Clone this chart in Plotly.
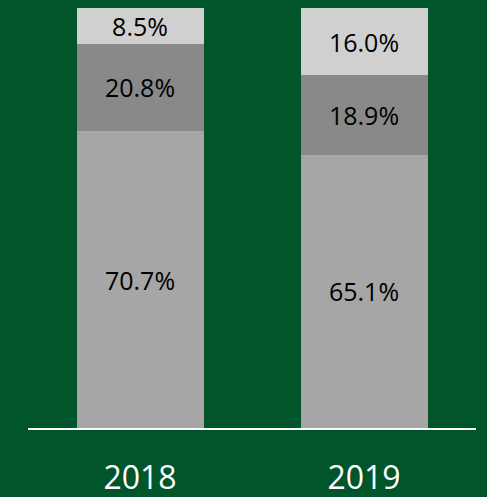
import plotly.graph_objects as go

years = ['2018', '2019']
bottom_share = [70.7, 65.1]
middle_share = [20.8, 18.9]
top_share = [8.5, 16.0]

bg = '#00552B'

fig = go.Figure()

for vals, color in [(bottom_share, '#A6A6A6'),
                    (middle_share, '#898989'),
                    (top_share, '#D0D0D0')]:
    fig.add_trace(go.Bar(
        x=years,
        y=vals,
        marker=dict(color=color, line=dict(width=0)),
        text=[f'{v:.1f}%' for v in vals],
        textposition='inside',
        insidetextanchor='middle',
        constraintext='none',
        textfont=dict(color='black', size=25, family='Open Sans'),
        hoverinfo='skip',
    ))

fig.update_layout(
    barmode='stack',
    bargap=0.433,
    width=487,
    height=497,
    margin=dict(l=28, r=11, t=8, b=69),
    paper_bgcolor=bg,
    plot_bgcolor=bg,
    showlegend=False,
    uniformtext=dict(mode=False),
)

fig.update_xaxes(
    showline=True,
    linecolor='white',
    linewidth=2,
    ticks='',
    automargin=False,
    ticklabelstandoff=21,
    tickfont=dict(color='white', size=32, family='Open Sans'),
    showgrid=False,
)
fig.update_yaxes(
    range=[0, 100],
    visible=False,
    showgrid=False,
    automargin=False,
)

# page margin off so the figure sits at the window corner
fig.write_html(
    'out.html',
    config={'displayModeBar': False},
    post_script="document.body.style.margin='0';document.body.style.overflow='hidden';",
)
